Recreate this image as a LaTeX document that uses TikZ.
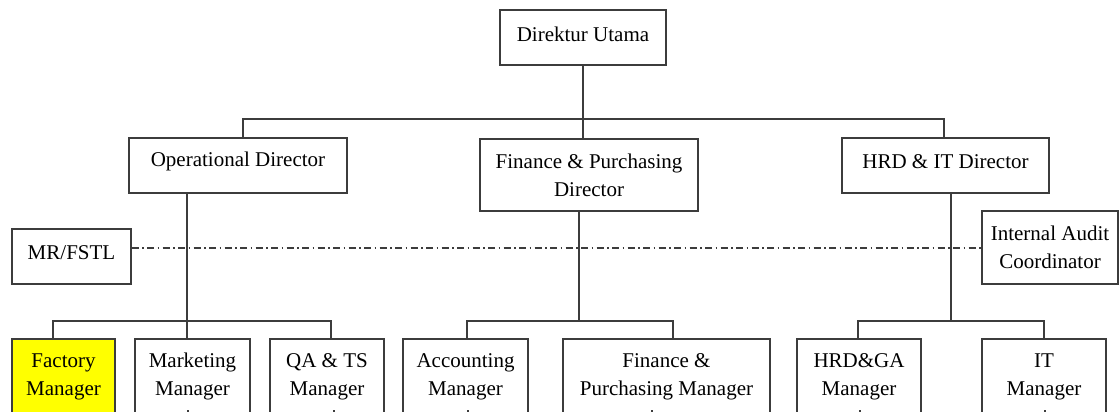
\documentclass[tikz,border=0pt]{standalone}
\usepackage{fontspec}
\setmainfont{Liberation Serif}
\definecolor{factyellow}{RGB}{255,255,0}
\definecolor{linegray}{RGB}{60,60,60}
\newcommand{\liftup}[2]{\raisebox{#1}[\height][\depth]{#2}}
\begin{document}
\begin{tikzpicture}[x=1pt,y=-1pt,
  box/.style={draw=linegray, line width=1.1pt, fill=white, inner sep=0pt, align=center,
              font=\fontsize{21}{28}\selectfont},
  conn/.style={draw=linegray, line width=1.1pt},
  auditline/.style={draw=linegray, line width=1.1pt, dash pattern=on 7pt off 3.5pt on 1.5pt off 3.5pt},
  ]
\useasboundingbox (0,0) rectangle (1119,412);
\fill[white] (0,0) rectangle (1119,412);

% top level
\node[box, minimum width=166pt, minimum height=55pt] (du) at (583,37.5) {\liftup{3pt}{Direktur Utama}};

% directors
\node[box, minimum width=218pt, minimum height=55pt] (od) at (238,165.5) {\liftup{4pt}{Operational Director}};
\node[box, minimum width=218pt, minimum height=72pt] (fpd) at (589,175) {Finance \& Purchasing\\Director};
\node[box, minimum width=207pt, minimum height=55pt] (hid) at (945.5,165.5) {\liftup{4pt}{HRD \& IT Director}};

% staff
\node[box, minimum width=119pt, minimum height=55pt] (mr) at (71.5,256.5) {\liftup{4pt}{MR/FSTL}};
\node[box, minimum width=136pt, minimum height=73pt] (ia) at (1050,247.5) {Internal Audit\\Coordinator};

% managers
\node[box, fill=factyellow, minimum width=103pt, minimum height=75pt] (fm) at (63.5,376.5) {Factory\\Manager};
\node[box, minimum width=115pt, minimum height=75pt] (mm) at (192.5,376.5) {Marketing\\Manager};
\node[box, minimum width=114pt, minimum height=75pt] (qa) at (327,376.5) {QA \& TS\\Manager};
\node[box, minimum width=125pt, minimum height=75pt] (am) at (465.5,376.5) {Accounting\\Manager};
\node[box, minimum width=207pt, minimum height=75pt] (fpm) at (666.5,376.5) {Finance \&\\Purchasing Manager};
\node[box, minimum width=124pt, minimum height=75pt] (hg) at (859,376.5) {HRD\&GA\\Manager};
\node[box, minimum width=124pt, minimum height=75pt] (it) at (1044,376.5) {IT\\Manager};

% connector coordinates
\coordinate (topbar) at (0,119);
\coordinate (lowbar) at (0,321);
\coordinate (odx) at (243,0);
\coordinate (dux) at (583,0);
\coordinate (hidx) at (944,0);
\coordinate (oddown) at (187,0);
\coordinate (fpddown) at (579,0);
\coordinate (hiddown) at (951,0);
\coordinate (fmx) at (53,0);
\coordinate (qax) at (331,0);
\coordinate (amx) at (467,0);
\coordinate (fpmx) at (673,0);
\coordinate (hgx) at (858,0);
\coordinate (itx) at (1044,0);
\coordinate (audity) at (0,248);

% top level connectors
\draw[conn] (du.south -| dux) -- (fpd.north -| dux);
\draw[conn] (od.north -| odx) -- (topbar -| odx) -- (topbar -| hidx) -- (hid.north -| hidx);

% operational branch
\draw[conn] (od.south -| oddown) -- (mm.north -| oddown);
\draw[conn] (fm.north -| fmx) -- (lowbar -| fmx) -- (lowbar -| qax) -- (qa.north -| qax);

% finance branch
\draw[conn] (fpd.south -| fpddown) -- (lowbar -| fpddown);
\draw[conn] (am.north -| amx) -- (lowbar -| amx) -- (lowbar -| fpmx) -- (fpm.north -| fpmx);

% HRD branch
\draw[conn] (hid.south -| hiddown) -- (lowbar -| hiddown);
\draw[conn] (hg.north -| hgx) -- (lowbar -| hgx) -- (lowbar -| itx) -- (it.north -| itx);

% audit line
\draw[auditline] (mr.east |- audity) -- (ia.west |- audity);

% stubs at the lower edge
\draw[conn] (mm.south -| 188,0) -- ++(0,-5);
\draw[conn] (qa.south -| 334,0) -- ++(0,-5);
\draw[conn] (am.south -| 468,0) -- ++(0,-5);
\draw[conn] (fpm.south -| 652,0) -- ++(0,-5);
\draw[conn] (hg.south -| 860,0) -- ++(0,-5);
\draw[conn] (it.south -| 1045,0) -- ++(0,-5);
\end{tikzpicture}
\end{document}
